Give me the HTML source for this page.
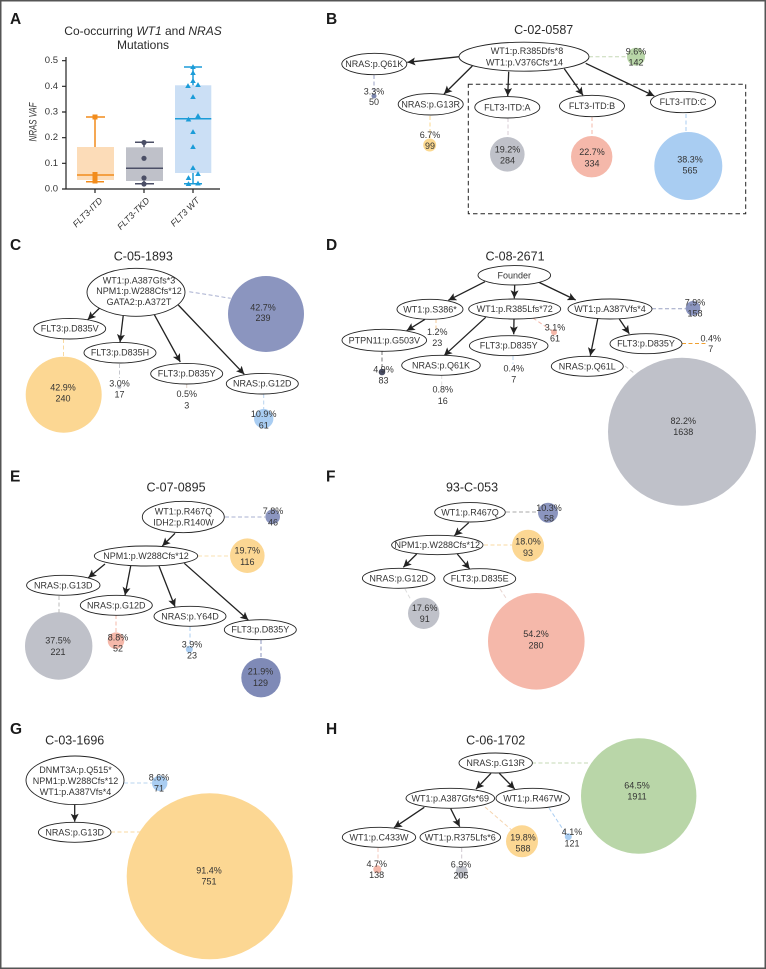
<!DOCTYPE html>
<html><head><meta charset="utf-8"><style>
html,body{margin:0;padding:0;background:#fff}
svg{display:block;filter:blur(.3px)}
text{font-family:"Liberation Sans",sans-serif;font-size:9px;fill:#333;text-anchor:middle;dominant-baseline:central}
.t{font-size:12.5px;fill:#2a2a2a}
.p{font-size:15.5px;font-weight:bold;fill:#1a1a1a;text-anchor:start;dominant-baseline:auto}
.k{font-size:9.5px;text-anchor:end}
.x{font-size:9px;font-style:italic;text-anchor:end}
ellipse{fill:#fff;stroke:#222;stroke-width:.9}
.a line{stroke:#222;stroke-width:1.3;marker-end:url(#h)}
.d line{stroke-width:1;stroke-dasharray:4 2.5}
</style></head><body>
<svg width="766" height="969" viewBox="0 0 766 969" xmlns="http://www.w3.org/2000/svg">
<defs>
<marker id="h" markerUnits="userSpaceOnUse" markerWidth="9" markerHeight="8" refX="8" refY="4" orient="auto"><path d="M0 0L8 4L0 8L1.8 4Z" fill="#222"/></marker>
<path id="tr" d="M0-2.9L2.8 2H-2.8Z" fill="#1b9cd8"/>
</defs>
<rect x=".75" y=".75" width="764.5" height="967.5" fill="#fff" stroke="#555" stroke-width="1.5"/>

<!-- A -->
<text class="p" x="10" y="24">A</text>
<text class="t" style="font-size:12px" x="143" y="31">Co-occurring <tspan font-style="italic">WT1</tspan> and <tspan font-style="italic">NRAS</tspan></text>
<text class="t" style="font-size:12px" x="143" y="45">Mutations</text>
<rect x="77" y="147" width="37" height="33" fill="#fcdcb8"/>
<rect x="126" y="147.3" width="37" height="33.7" fill="#bfc1c9"/>
<rect x="175" y="85.3" width="36.3" height="87.7" fill="#cbdff5"/>
<g stroke="#f28c1c" stroke-width="1.5" fill="none"><path d="M77 175H114M95 147V117M86 117H105M95 176V181.7M86 181.7H104"/></g>
<g fill="#f28c1c"><rect x="92.5" y="114.5" width="5" height="5"/><rect x="92.5" y="172" width="5" height="5"/><rect x="92.5" y="176.5" width="5" height="5"/><rect x="92.5" y="178.5" width="5" height="5"/></g>
<g stroke="#4b4f66" stroke-width="1.5" fill="none"><path d="M126 168.3H163M144 147.3V142.3M135 142.3H154M144 181V183.7M135 183.7H154"/></g>
<g fill="#4b4f66"><circle cx="144" cy="142.5" r="2.6"/><circle cx="144" cy="158.3" r="2.6"/><circle cx="144" cy="178" r="2.6"/><circle cx="144" cy="184" r="2.6"/></g>
<g stroke="#1b9cd8" stroke-width="1.5" fill="none"><path d="M175 118.7H211.3M193 85.3V67M184 67H202M193 173V183.7M184 183.7H202"/></g>
<use href="#tr" x="193" y="67"/><use href="#tr" x="193" y="73"/><use href="#tr" x="193" y="81"/><use href="#tr" x="188" y="86"/><use href="#tr" x="198" y="85"/><use href="#tr" x="193" y="97"/><use href="#tr" x="188.5" y="119.5"/><use href="#tr" x="198" y="116"/><use href="#tr" x="193" y="132"/><use href="#tr" x="193" y="147"/><use href="#tr" x="193" y="168"/><use href="#tr" x="188.5" y="178"/><use href="#tr" x="198" y="174"/><use href="#tr" x="188.5" y="184"/><use href="#tr" x="198" y="183.5"/>
<path d="M66 57V189H220M62 189H66M62 163.3H66M62 137.7H66M62 112H66M62 86.3H66M62 60.7H66M95 189V193M144 189V193M193 189V193" stroke="#222" stroke-width="1.2" fill="none"/>
<text class="k" x="58" y="189">0.0</text><text class="k" x="58" y="163.3">0.1</text><text class="k" x="58" y="137.7">0.2</text><text class="k" x="58" y="112">0.3</text><text class="k" x="58" y="86.3">0.4</text><text class="k" x="58" y="60.7">0.5</text>
<text x="33.5" y="122" transform="rotate(-90 33.5 122)" style="font-style:italic;font-size:11px;fill:#333" textLength="39" lengthAdjust="spacingAndGlyphs">NRAS VAF</text>
<text class="x" transform="translate(101 199) rotate(-45)">FLT3-ITD</text>
<text class="x" transform="translate(148 199) rotate(-45)">FLT3-TKD</text>
<text class="x" transform="translate(198 199) rotate(-45)">FLT3 WT</text>

<!-- B -->
<text class="p" x="326" y="24">B</text>
<text class="t" x="543.7" y="30">C-02-0587</text>
<rect x="468.3" y="84.3" width="277.4" height="129.4" fill="none" stroke="#222" stroke-width="1" stroke-dasharray="4.5 3"/>
<g fill="#b9d6a8"><circle cx="636" cy="56.7" r="9"/></g>
<circle cx="374" cy="96" r="2.5" fill="#7b86ae"/><circle cx="429.7" cy="145" r="6.5" fill="#fbd88f"/><circle cx="507.3" cy="154.3" r="17.3" fill="#bfc1c9"/><circle cx="591.7" cy="156.7" r="20.7" fill="#f5b8aa"/><circle cx="688.3" cy="166" r="34" fill="#a9cdf2"/>
<g class="d"><line x1="589" y1="56.7" x2="627" y2="56.7" stroke="#c5d8b5"/><line x1="374" y1="75" x2="374" y2="93" stroke="#9aa2c4"/><line x1="430" y1="116" x2="430" y2="138" stroke="#fbd88f"/><line x1="508" y1="118" x2="508" y2="137" stroke="#d8ccd4"/><line x1="592" y1="117" x2="592" y2="136" stroke="#f5b8aa"/><line x1="686" y1="114" x2="686" y2="132" stroke="#a9cdf2"/></g>
<g class="a"><line x1="459.3" y1="56.7" x2="407.3" y2="62.3"/><line x1="472.3" y1="66" x2="444" y2="94"/><line x1="508.7" y1="71.7" x2="507.7" y2="96"/><line x1="564.3" y1="68.7" x2="583" y2="95.3"/><line x1="585.7" y1="63.3" x2="654.3" y2="96"/></g>
<ellipse cx="524" cy="56.7" rx="65" ry="14.5"/><ellipse cx="374.3" cy="64" rx="32.5" ry="10.7"/><ellipse cx="430.7" cy="104.3" rx="32.5" ry="10.7"/><ellipse cx="507.3" cy="107.3" rx="32.5" ry="10.7"/><ellipse cx="592" cy="106" rx="32.5" ry="10.7"/><ellipse cx="683" cy="102" rx="32.5" ry="10.7"/>
<text x="527" y="51">WT1:p.R385Dfs*8</text><text x="524.5" y="62.3">WT1:p.V376Cfs*14</text>
<text x="374.3" y="64">NRAS:p.Q61K</text><text x="430.7" y="104.3">NRAS:p.G13R</text><text x="507.3" y="107.3">FLT3-ITD:A</text><text x="592" y="106">FLT3-ITD:B</text><text x="683" y="102">FLT3-ITD:C</text>
<text x="636" y="51.7">9.6%</text><text x="636" y="62.3">142</text>
<text x="374" y="91.7">3.3%</text><text x="374" y="102">50</text>
<text x="430" y="135">6.7%</text><text x="430" y="146">99</text>
<text x="507.5" y="149.3">19.2%</text><text x="507.5" y="160.7">284</text>
<text x="592" y="152">22.7%</text><text x="592" y="163.3">334</text>
<text x="690" y="159.3">38.3%</text><text x="690" y="170.7">565</text>

<!-- C -->
<text class="p" x="10" y="250">C</text>
<text class="t" x="143.3" y="256.7">C-05-1893</text>
<circle cx="266" cy="314" r="38" fill="#8b95bf"/><circle cx="63.7" cy="394.7" r="38" fill="#fcd793"/><circle cx="119.3" cy="386.7" r="2" fill="#bfc1c9"/><circle cx="263.7" cy="418.7" r="9.7" fill="#a9cdf2"/>
<g class="d"><line x1="189.3" y1="291.7" x2="230.7" y2="298.3" stroke="#a9b0d0"/><line x1="63.5" y1="339" x2="63.5" y2="356" stroke="#f9d9a0"/><line x1="119.5" y1="364" x2="119.5" y2="378" stroke="#c4c6cc"/><line x1="186.7" y1="384" x2="186.7" y2="390" stroke="#e0d0c8"/><line x1="263.7" y1="394" x2="263.7" y2="409" stroke="#b8d4ef"/></g>
<g class="a"><line x1="101.7" y1="306" x2="87.7" y2="319.7"/><line x1="123.7" y1="311.7" x2="120" y2="342.3"/><line x1="152.7" y1="311.7" x2="180.3" y2="362"/><line x1="178.3" y1="305" x2="244.3" y2="374.3"/></g>
<ellipse cx="136" cy="292.3" rx="49" ry="24"/><ellipse cx="69.7" cy="328.7" rx="36" ry="10.3"/><ellipse cx="120" cy="352.7" rx="36" ry="10.3"/><ellipse cx="186.7" cy="373.7" rx="36" ry="10.3"/><ellipse cx="262.3" cy="383.7" rx="36" ry="10.3"/>
<text x="139" y="280.7">WT1:p.A387Gfs*3</text><text x="139" y="291">NPM1:p.W288Cfs*12</text><text x="139" y="302">GATA2:p.A372T</text>
<text x="69.7" y="328.7">FLT3:p.D835V</text><text x="120" y="352.7">FLT3:p.D835H</text><text x="186.7" y="373.7">FLT3:p.D835Y</text><text x="262.3" y="383.7">NRAS:p.G12D</text>
<text x="263" y="307.3">42.7%</text><text x="263" y="318">239</text>
<text x="63" y="387.3">42.9%</text><text x="63" y="398.3">240</text>
<text x="119.5" y="383.3">3.0%</text><text x="119.5" y="394.3">17</text>
<text x="186.7" y="394">0.5%</text><text x="186.7" y="405.3">3</text>
<text x="263.7" y="414">10.9%</text><text x="263.7" y="425.3">61</text>

<!-- D -->
<text class="p" x="326" y="250">D</text>
<text class="t" x="515" y="256.7">C-08-2671</text>
<circle cx="682" cy="431.7" r="74" fill="#bfc1c9"/><circle cx="693" cy="308.3" r="7.3" fill="#8b95bf"/><circle cx="554" cy="332.3" r="3" fill="#f5b8aa"/><circle cx="382" cy="372" r="3.3" fill="#4b4f66"/>
<g class="d"><line x1="652" y1="308.7" x2="686" y2="308.7" stroke="#9aa2c4"/><line x1="436" y1="319" x2="436" y2="330" stroke="#f5c896"/><line x1="533" y1="318" x2="552" y2="331" stroke="#f5b8aa"/><line x1="382" y1="351" x2="382" y2="367" stroke="#777"/><line x1="441.7" y1="375" x2="441.7" y2="386" stroke="#ddd"/><line x1="513" y1="356" x2="513" y2="364" stroke="#b8d4ef"/><line x1="682" y1="343.5" x2="707" y2="343.5" stroke="#f0a030"/><line x1="625" y1="366" x2="634" y2="373" stroke="#ccc"/></g>
<g class="a"><line x1="485" y1="281.7" x2="448.3" y2="300.3"/><line x1="514.7" y1="284.7" x2="514.3" y2="298.3"/><line x1="538.3" y1="282" x2="575.7" y2="300"/><line x1="425" y1="319.3" x2="406.7" y2="330.7"/><line x1="485.7" y1="317.3" x2="444" y2="355.7"/><line x1="514" y1="319" x2="513.7" y2="334.3"/><line x1="597.7" y1="319" x2="590.3" y2="355.7"/><line x1="619.3" y1="319" x2="629.3" y2="333.7"/></g>
<ellipse cx="514.3" cy="275.3" rx="36.3" ry="9.7"/><ellipse cx="430" cy="309.3" rx="33" ry="10"/><ellipse cx="514.7" cy="309" rx="46" ry="10"/><ellipse cx="610" cy="309" rx="42" ry="10"/><ellipse cx="384.3" cy="340.3" rx="42.3" ry="11"/><ellipse cx="441" cy="365.3" rx="39.3" ry="10"/><ellipse cx="508.7" cy="345.7" rx="39.3" ry="10"/><ellipse cx="646" cy="343.7" rx="36" ry="10"/><ellipse cx="587.3" cy="366.3" rx="36" ry="10"/>
<text x="514.3" y="275.3">Founder</text><text x="430" y="309.3">WT1:p.S386*</text><text x="514.7" y="309">WT1:p.R385Lfs*72</text><text x="610" y="309">WT1:p.A387Vfs*4</text><text x="384.3" y="340.3">PTPN11:p.G503V</text><text x="441" y="365.3">NRAS:p.Q61K</text><text x="508.7" y="345.7">FLT3:p.D835Y</text><text x="646" y="343.7">FLT3:p.D835Y</text><text x="587.3" y="366.3">NRAS:p.Q61L</text>
<text x="695" y="302.7">7.9%</text><text x="695" y="313.3">158</text>
<text x="437.3" y="332">1.2%</text><text x="437.3" y="343">23</text>
<text x="555" y="327.3">3.1%</text><text x="555" y="338.3">61</text>
<text x="383.5" y="369.3">4.9%</text><text x="383.5" y="380.3">83</text>
<text x="442.7" y="389.7">0.8%</text><text x="442.7" y="401">16</text>
<text x="513.7" y="368.3">0.4%</text><text x="513.7" y="379.7">7</text>
<text x="710.7" y="338.3">0.4%</text><text x="710.7" y="349">7</text>
<text x="683.3" y="421">82.2%</text><text x="683.3" y="432">1638</text>

<!-- E -->
<text class="p" x="10" y="481.7">E</text>
<text class="t" x="176" y="487.7">C-07-0895</text>
<circle cx="272.7" cy="516.7" r="7.3" fill="#8b95bf"/><circle cx="247.3" cy="555.7" r="17.3" fill="#fcd793"/><circle cx="58.7" cy="646" r="33.7" fill="#bfc1c9"/><circle cx="116" cy="640.7" r="8.3" fill="#f5b8aa"/><circle cx="189.3" cy="649.3" r="3.5" fill="#a9cdf2"/><circle cx="261" cy="677.7" r="19.7" fill="#7f8ab7"/>
<g class="d"><line x1="225" y1="517" x2="266" y2="517" stroke="#a9b0d0"/><line x1="198" y1="556" x2="230" y2="556" stroke="#fae0b0"/><line x1="59" y1="596" x2="59" y2="613" stroke="#bbb"/><line x1="116" y1="615" x2="116" y2="633" stroke="#f5b8aa"/><line x1="190" y1="627" x2="190" y2="646" stroke="#a9cdf2"/><line x1="261" y1="640" x2="261" y2="658" stroke="#8b95bf"/></g>
<g class="a"><line x1="175" y1="533.3" x2="162.3" y2="546"/><line x1="105" y1="564" x2="88.3" y2="577.7"/><line x1="130.7" y1="566" x2="125" y2="595.3"/><line x1="159" y1="566" x2="175" y2="606.7"/><line x1="184.3" y1="563.3" x2="248.3" y2="620"/></g>
<ellipse cx="183.3" cy="517" rx="41" ry="15.7"/><ellipse cx="146" cy="556" rx="51.7" ry="10"/><ellipse cx="63.3" cy="585.3" rx="36.7" ry="10"/><ellipse cx="116.3" cy="605.3" rx="36" ry="10"/><ellipse cx="190" cy="616.3" rx="36" ry="10"/><ellipse cx="260.3" cy="629.7" rx="36" ry="10"/>
<text x="183.5" y="511.7">WT1:p.R467Q</text><text x="183.5" y="522.7">IDH2:p.R140W</text><text x="146" y="556">NPM1:p.W288Cfs*12</text><text x="63.3" y="585.3">NRAS:p.G13D</text><text x="116.3" y="605.3">NRAS:p.G12D</text><text x="190" y="616.3">NRAS:p.Y64D</text><text x="260.3" y="629.7">FLT3:p.D835Y</text>
<text x="273" y="511">7.8%</text><text x="273" y="522.3">46</text>
<text x="247.3" y="550.7">19.7%</text><text x="247.3" y="562">116</text>
<text x="58" y="640.7">37.5%</text><text x="58" y="652">221</text>
<text x="118" y="637.7">8.8%</text><text x="118" y="648.7">52</text>
<text x="192" y="644.7">3.9%</text><text x="192" y="655.3">23</text>
<text x="260.5" y="671.7">21.9%</text><text x="260.5" y="683">129</text>

<!-- F -->
<text class="p" x="326" y="481.5">F</text>
<text class="t" x="472" y="487.7">93-C-053</text>
<circle cx="548" cy="512.7" r="10" fill="#8b95bf"/><circle cx="528" cy="545.7" r="16" fill="#fcd793"/><circle cx="423.7" cy="613.3" r="15.7" fill="#bfc1c9"/><circle cx="536.3" cy="641.3" r="48.3" fill="#f5b8aa"/>
<g class="d"><line x1="506" y1="512" x2="537" y2="512" stroke="#aaa"/><line x1="484" y1="545" x2="512" y2="545" stroke="#fad9a0"/><line x1="405" y1="589" x2="411" y2="600" stroke="#ddd"/><line x1="500" y1="589" x2="506" y2="598" stroke="#e8d4d0"/></g>
<g class="a"><line x1="468.7" y1="522.7" x2="454.3" y2="535.7"/><line x1="416.7" y1="554" x2="403.3" y2="567.3"/><line x1="457.3" y1="554" x2="469.7" y2="569"/></g>
<ellipse cx="470" cy="512.3" rx="35.3" ry="9.7"/><ellipse cx="437.3" cy="545" rx="45.7" ry="9.7"/><ellipse cx="398.7" cy="578.3" rx="36.3" ry="10"/><ellipse cx="479.7" cy="578.7" rx="36" ry="10"/>
<text x="470" y="512.3">WT1:p.R467Q</text><text x="437.3" y="545">NPM1:p.W288Cfs*12</text><text x="398.7" y="578.3">NRAS:p.G12D</text><text x="479.7" y="578.7">FLT3:p.D835E</text>
<text x="549" y="508">10.3%</text><text x="549" y="518.7">58</text>
<text x="528" y="541.3">18.0%</text><text x="528" y="553">93</text>
<text x="424.7" y="608">17.6%</text><text x="424.7" y="619">91</text>
<text x="536" y="634">54.2%</text><text x="536" y="645.3">280</text>

<!-- G -->
<text class="p" x="10" y="734">G</text>
<text class="t" x="74.7" y="740.3">C-03-1696</text>
<circle cx="159.7" cy="783.3" r="7.7" fill="#a9cdf2"/><circle cx="209.7" cy="876.3" r="83" fill="#fcd793"/>
<g class="d"><line x1="124" y1="783" x2="152" y2="783" stroke="#b8d4ef"/><line x1="111" y1="832" x2="140" y2="832" stroke="#fad9a0"/></g>
<g class="a"><line x1="74.7" y1="805" x2="74.7" y2="821.7"/></g>
<ellipse cx="75" cy="780.3" rx="49" ry="24.3"/><ellipse cx="74.7" cy="832.3" rx="36.3" ry="10"/>
<text x="75.5" y="770">DNMT3A:p.Q515*</text><text x="75.5" y="781">NPM1:p.W288Cfs*12</text><text x="75.5" y="792">WT1:p.A387Vfs*4</text><text x="74.7" y="832.3">NRAS:p.G13D</text>
<text x="159" y="777.3">8.6%</text><text x="159" y="788.3">71</text>
<text x="209" y="870.7">91.4%</text><text x="209" y="881.7">751</text>

<!-- H -->
<text class="p" x="326" y="734">H</text>
<text class="t" x="495.7" y="740.3">C-06-1702</text>
<circle cx="638.7" cy="796" r="57.7" fill="#b9d6a8"/><circle cx="522" cy="841.3" r="16" fill="#fcd793"/><circle cx="568.3" cy="836.7" r="3.5" fill="#a9cdf2"/><circle cx="377.3" cy="869.3" r="4" fill="#f5b8aa"/><circle cx="461.7" cy="871.7" r="6" fill="#bfc1c9"/>
<g class="d"><line x1="532" y1="763" x2="590" y2="763" stroke="#c5d8b5"/><line x1="485" y1="807" x2="511.7" y2="830" stroke="#f5d5b0"/><line x1="549" y1="808" x2="566" y2="834" stroke="#a9cdf2"/><line x1="378" y1="848" x2="378" y2="863" stroke="#f5c8bc"/><line x1="461.7" y1="848" x2="461.7" y2="862" stroke="#d0c8d0"/></g>
<g class="a"><line x1="491" y1="773.3" x2="476" y2="789"/><line x1="499.3" y1="773.3" x2="514.7" y2="789"/><line x1="424.3" y1="807.3" x2="394" y2="827.7"/><line x1="450.7" y1="808.7" x2="459.7" y2="826.7"/></g>
<ellipse cx="495.7" cy="763" rx="36.7" ry="10"/><ellipse cx="450.3" cy="798.3" rx="44.3" ry="10"/><ellipse cx="532.7" cy="798.3" rx="36.7" ry="10"/><ellipse cx="379" cy="837.3" rx="36.7" ry="10"/><ellipse cx="460.3" cy="837.3" rx="40.3" ry="10"/>
<text x="495.7" y="763">NRAS:p.G13R</text><text x="450.3" y="798.3">WT1:p.A387Gfs*69</text><text x="532.7" y="798.3">WT1:p.R467W</text><text x="379" y="837.3">WT1:p.C433W</text><text x="460.3" y="837.3">WT1:p.R375Lfs*6</text>
<text x="637" y="785.7">64.5%</text><text x="637" y="796.7">1911</text>
<text x="523" y="837.3">19.8%</text><text x="523" y="848.3">588</text>
<text x="572" y="832">4.1%</text><text x="572" y="843.3">121</text>
<text x="376.7" y="864">4.7%</text><text x="376.7" y="875">138</text>
<text x="461" y="864.7">6.9%</text><text x="461" y="875.7">205</text>
</svg>
</body></html>
